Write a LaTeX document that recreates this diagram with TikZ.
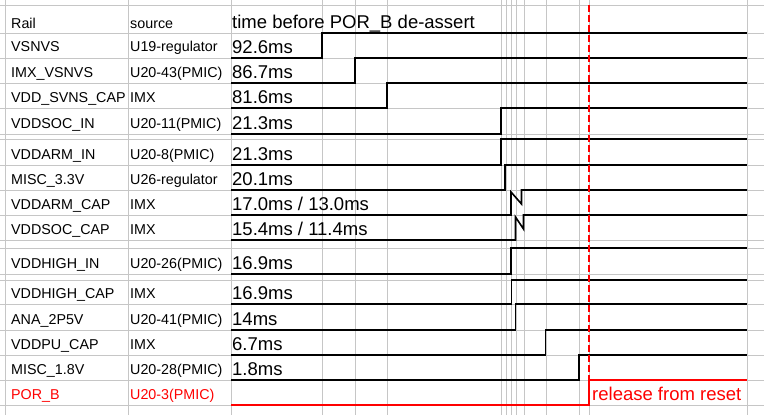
\documentclass[tikz,border=0pt]{standalone}
\usepackage{fontspec}
\setmainfont{Liberation Sans}

\begin{document}
\begin{tikzpicture}
	[   x=1pt,y=-1pt,
	    grid/.style={draw=gray!45,line width=0.8pt},
	    wave/.style={draw=#1,line width=1.6pt},
	    cell/.style={anchor=base west,inner sep=0pt,font=\fontsize{14.3}{16}\selectfont,text=#1},
	    big/.style={anchor=base west,inner sep=0pt,font=\fontsize{18.5}{22}\selectfont,text=#1},
	]
	\tikzset{release line/.style={draw=red,line width=1.6pt,dash pattern=on 7pt off 3pt}}
	\useasboundingbox (0,0) rectangle (764,415);

	\foreach \y in {5,33,58,83,108,134,139,165,190,215,240,248,274,280,304,330,355,380,405}
	{
		\draw[grid] (0,\y) -- (764,\y);
	}
	\foreach \x in {5,128,231,322,355,387,501,506,511,516,524,546,579,589,747}
	{
		\draw[grid] (\x,0) -- (\x,415);
	}

	\node[cell=black] (r-0) at (11,28) {Rail};
	\node[cell=black] (s-0) at (130,28) {source};
	\node[big=black] (t-0) at (232,28) {time before POR\_B de-assert};

	\foreach \i/\lo/\rail/\src/\dt in {
		1/58/VSNVS/U19-regulator/92.6ms,
		2/83/IMX\_VSNVS/U20-43(PMIC)/86.7ms,
		3/108/VDD\_SVNS\_CAP/IMX/81.6ms,
		4/134/VDDSOC\_IN/U20-11(PMIC)/21.3ms,
		5/165/VDDARM\_IN/U20-8(PMIC)/21.3ms,
		6/190/MISC\_3.3V/U26-regulator/20.1ms,
		7/215/VDDARM\_CAP/IMX/{17.0ms / 13.0ms},
		8/240/VDDSOC\_CAP/IMX/{15.4ms / 11.4ms},
		9/274/VDDHIGH\_IN/U20-26(PMIC)/16.9ms,
		10/304/VDDHIGH\_CAP/IMX/16.9ms,
		11/330/ANA\_2P5V/U20-41(PMIC)/14ms,
		12/355/VDDPU\_CAP/IMX/6.7ms,
		13/380/MISC\_1.8V/U20-28(PMIC)/1.8ms}
	{
		\node[cell=black] (r-\i) at (11,\lo-6) {\rail};
		\node[cell=black] (s-\i) at (130,\lo-6) {\src};
		\node[big=black] (t-\i) at (232,\lo-5) {\dt};
	}

	\foreach \hi/\lo/\up in {33/58/322,58/83/355,83/108/387,108/134/501,139/165/501,165/190/505,
		248/274/511,280/304/511.5,304/330/515.5,330/355/545.5,355/380/579}
	{
		\draw[wave=black] (231,\lo) -- (\up,\lo) -- (\up,\hi) -- (747,\hi);
	}

	\draw[wave=black] (231,215) -- (511,215) -- (511,192) -- (521.5,204) -- (521.5,190) -- (747,190);
	\draw[wave=black] (231,240) -- (515.5,240) -- (515.5,217) -- (523.5,229) -- (523.5,215) -- (747,215);

	\node[cell=red] (r-14) at (11,399) {POR\_B};
	\node[cell=red] (s-14) at (130,399) {U20-3(PMIC)};
	\draw[wave=red] (231,405) -- (589,405) -- (589,380) -- (747,380);
	\node[big=red] (rel) at (592,400) {release from reset};
	\draw[release line] (589,5) -- (589,380);

\end{tikzpicture}
\end{document}
